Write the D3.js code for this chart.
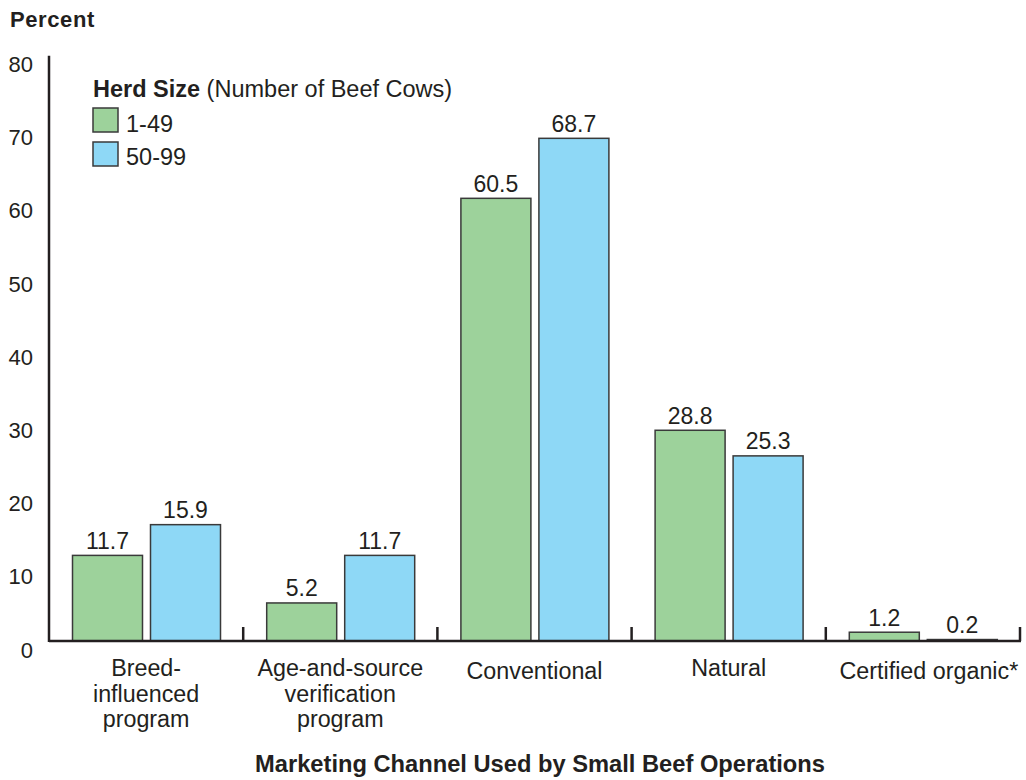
<!DOCTYPE html>
<html><head><meta charset="utf-8">
<script src="https://cdn.jsdelivr.net/npm/d3@7"></script>
<style>body{margin:0;background:#fff}svg{display:block}text{font-family:"Liberation Sans",Arial,sans-serif;fill:#231f20}</style>
</head><body>
<script>
const categories = [["Breed-","influenced","program"],["Age-and-source","verification","program"],["Conventional"],["Natural"],["Certified organic*"]];
const seriesNames = ["1-49","50-99"];
const small = [11.7, 5.2, 60.5, 28.8, 1.2];
const mid = [15.9, 11.7, 68.7, 25.3, 0.2];
const yTicks = [0,10,20,30,40,50,60,70,80];
const colors = ["#9dd29b","#8ed8f6"];

const W=1026,H=780;
const svg=d3.select("body").append("svg").attr("width",W).attr("height",H);
const x0=49,x1=1020,yBase=641;
const y=d3.scaleLinear().domain([0,80]).range([yBase,yBase-80*7.317]);
const x=d3.scaleBand().domain(d3.range(categories.length)).range([x0,x1]).paddingInner(0).paddingOuter(0);
const xs=d3.scaleBand().domain([0,1]).range([23.5,171.5]).paddingInner(8/78);

// y tick labels
svg.append("g").selectAll("text").data(yTicks).join("text")
 .attr("x",33).attr("y",d=>y(d)+16.5).attr("text-anchor","end")
 .attr("font-size",22).text(d=>d);

// bars
const data=[small,mid];
const catBase=[676,676,679,676,679];
categories.forEach((c,i)=>{
  const g=svg.append("g").attr("transform",`translate(${x(i)},0)`);
  data.forEach((s,j)=>{
    g.append("rect").attr("x",xs(j)).attr("width",xs.bandwidth())
     .attr("y",y(s[i])).attr("height",yBase-y(s[i]))
     .attr("fill",colors[j]).attr("stroke","#3a3a3a").attr("stroke-width",1.5);
    g.append("text").attr("x",xs(j)+xs.bandwidth()/2).attr("y",y(s[i])-6.5)
     .attr("text-anchor","middle").attr("font-size",23).text(s[i].toFixed(1));
  });
  const t=g.append("text").attr("y",catBase[i])
   .attr("text-anchor","middle").attr("font-size",23.3);
  c.forEach((l,k)=>t.append("tspan").attr("x",x.bandwidth()/2+(i==4?6:0)).attr("dy",k==0?0:25.5).text(l));
});

// axes lines
svg.append("line").attr("x1",x0).attr("x2",x0).attr("y1",y(80)).attr("y2",yBase+1).attr("stroke","#231f20").attr("stroke-width",2.5);
svg.append("line").attr("x1",x0).attr("x2",x1+1).attr("y1",yBase).attr("y2",yBase).attr("stroke","#231f20").attr("stroke-width",2.5);
svg.append("g").selectAll("line").data(d3.range(1,categories.length+1)).join("line")
 .attr("x1",d=>x0+d*x.bandwidth()).attr("x2",d=>x0+d*x.bandwidth())
 .attr("y1",yBase-14).attr("y2",yBase).attr("stroke","#231f20").attr("stroke-width",2.5);

// titles
svg.append("text").attr("x",10).attr("y",26.5).attr("font-size",22).attr("letter-spacing",0.6).attr("font-weight","bold").text("Percent");
svg.append("text").attr("x",540).attr("y",771.5).attr("text-anchor","middle").attr("font-size",23.7).attr("font-weight","bold").text("Marketing Channel Used by Small Beef Operations");

// legend
const lt=svg.append("text").attr("x",93).attr("y",96.5).attr("font-size",23.5);
lt.append("tspan").attr("font-weight","bold").text("Herd Size");
lt.append("tspan").text(" (Number of Beef Cows)");
seriesNames.forEach((n,j)=>{
  svg.append("rect").attr("x",93).attr("y",108+j*34).attr("width",25).attr("height",24)
   .attr("fill",colors[j]).attr("stroke","#3a3a3a").attr("stroke-width",1.5);
  svg.append("text").attr("x",126).attr("y",131.5+j*33.5).attr("font-size",23.5).text(n);
});
</script>
</body></html>
